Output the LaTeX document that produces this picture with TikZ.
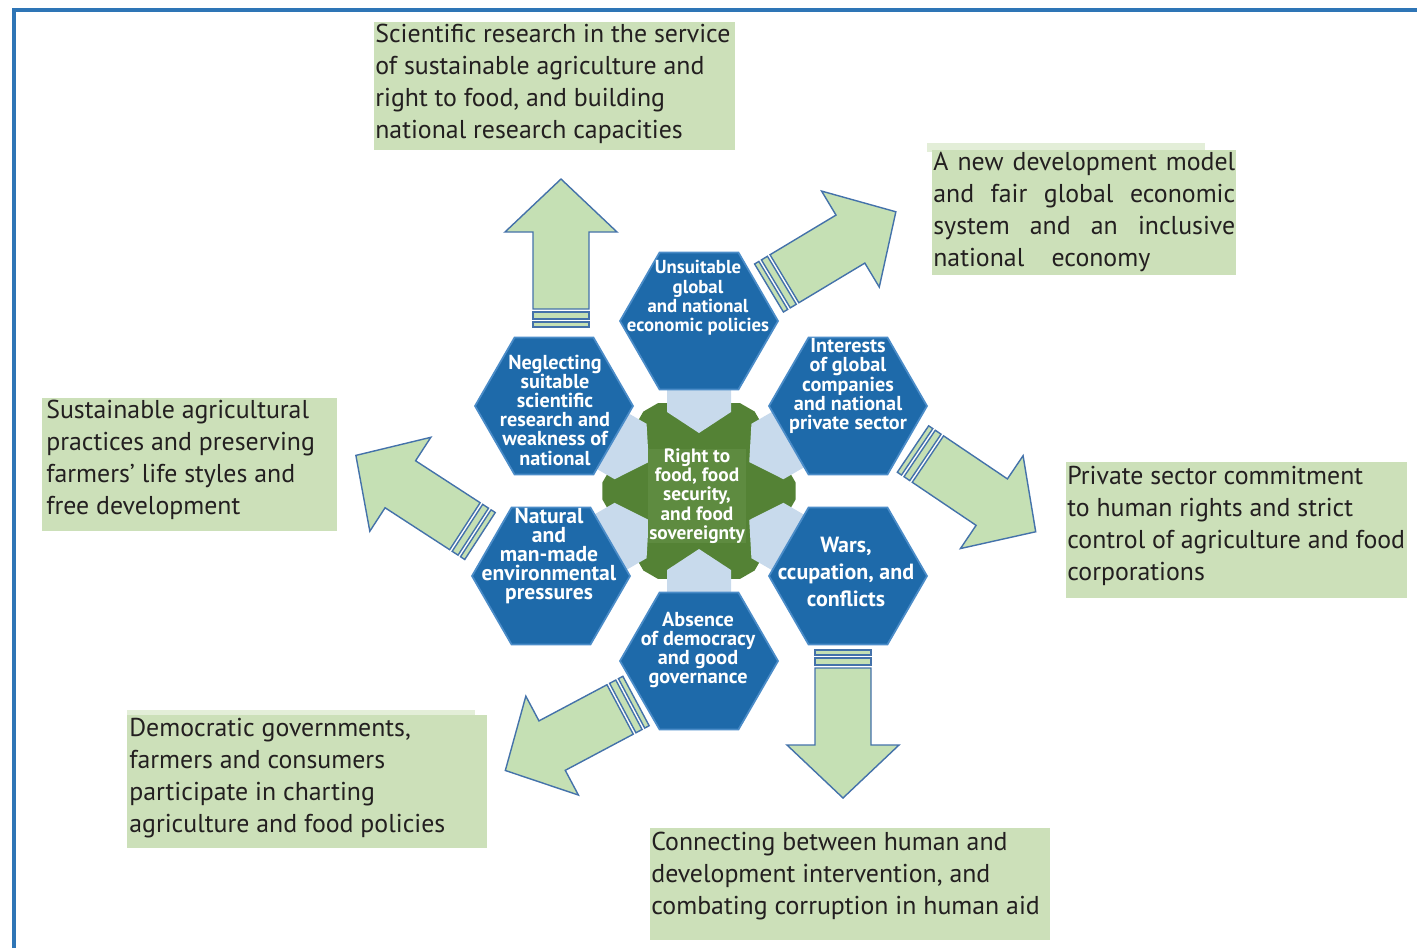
\documentclass[tikz,border=0pt]{standalone}
\usepackage{fontspec}
\setmainfont{PT Sans}
\usetikzlibrary{shapes.geometric,positioning}

\definecolor{frameblue}{RGB}{46,117,182}
\definecolor{hexblue}{RGB}{30,106,170}
\definecolor{hexedge}{RGB}{75,140,200}
\definecolor{stargreen}{RGB}{84,130,53}
\definecolor{starlight}{RGB}{94,139,64}
\definecolor{neckblue}{RGB}{200,218,236}
\definecolor{arrowgreen}{RGB}{197,224,180}
\definecolor{arrowedge}{RGB}{68,114,170}
\definecolor{boxgreen}{RGB}{204,224,185}
\definecolor{inkgray}{RGB}{35,31,32}

\tikzset{
  hexa/.style={regular polygon, regular polygon sides=6, minimum size=3.16cm,
    inner sep=0pt, fill=hexblue, draw=hexedge, line width=1pt},
  hextext/.style={text=white, font=\bfseries\fontsize{11.5}{10.94}\selectfont, align=center, inner sep=0pt},
  goaltext/.style={anchor=north west, text=inkgray, font=\fontsize{14.7}{18.14}\selectfont,
    align=left, inner sep=0pt},
  arrowpart/.style={fill=arrowgreen, draw=arrowedge, line width=0.8pt},
  neck/.style={fill=neckblue}
}

% striped block arrow: back end (x,y), direction
\newcommand{\stripearrow}[3]{%
  \begin{scope}[shift={(#1,#2)}, rotate=#3]
    \draw[arrowpart] (0,-28) rectangle (5,28);
    \draw[arrowpart] (8,-28) rectangle (15,28);
    \draw[arrowpart] (18,-28) -- (95,-28) -- (95,-56) -- (148,0) -- (95,56) -- (95,28) -- (18,28) -- cycle;
  \end{scope}}

\begin{document}
\begin{tikzpicture}[x=0.02cm, y=0.02cm]
    \useasboundingbox (0,0) rectangle (1417,-948);

    % frame
    \draw[frameblue, line width=0.09cm] (14,-948) -- (14,-10) -- (1417,-10);

    % arrows
    \stripearrow{561}{-327}{90}
    \stripearrow{769}{-288}{31}
    \stripearrow{913}{-449}{-34}
    \stripearrow{843}{-650}{-90}
    \stripearrow{636}{-701}{208}
    \stripearrow{480}{-536}{147}

    % centre star with necks
    \begin{scope}[shift={(699,-491)}]
        \fill[stargreen] (5:97) \foreach \a in {55,65,115,125,175,185,235,245,295,305,355} { -- (\a:97) } -- cycle;
        \foreach \t in {90,30,-30,-90,-150,150}
            \fill[neck, rotate=\t] (58,0) -- (79,-32) -- (104,-32) -- (104,32) -- (79,32) -- cycle;
    \end{scope}
    \node[hextext, font=\bfseries\fontsize{11}{10.94}\selectfont, fill=starlight,
        minimum width=1.98cm, minimum height=1.86cm] (core) at (697,-496)
        {Right to\\food, food\\security,\\and food\\sovereignty};

    % hexagons
    \node[hexa] (hT)  at (699,-321) {};
    \node[hexa] (hUR) at (848,-406) {};
    \node[hexa] (hLR) at (848,-576) {};
    \node[hexa] (hB)  at (699,-661) {};
    \node[hexa] (hLL) at (551,-576) {};
    \node[hexa] (hUL) at (554,-406) {};

    \node[hextext, font=\bfseries\fontsize{10.7}{10.94}\selectfont] (tT) at (698,-298)
        {Unsuitable\\global\\and national\\economic policies};
    \node[hextext] (tUR) at (848,-386) {Interests\\of global\\companies\\and national\\private sector};
    \node[hextext, font=\bfseries\fontsize{12.5}{15.3}\selectfont] (tLR) at (846,-572)
        {Wars,\\ccupation, and\\conflicts};
    \node[hextext] (tB)  at (698,-650) {Absence\\of democracy\\and good\\governance};
    \node[hextext, font=\bfseries\fontsize{12.3}{10.94}\selectfont] (tLL) at (549,-556)
        {Natural\\and\\man-made\\environmental\\pressures};
    \node[hextext] (tUL) at (555,-410) {Neglecting\\suitable\\scientific\\research and\\weakness of\\national};

    % goal boxes
    \fill[boxgreen] (374,-22) rectangle (735,-150);
    \node[goaltext] (gSci) at (375,-24) {Scientific research in the service\\of sustainable agriculture and\\right to food, and building\\national research capacities};

    \fill[boxgreen!55] (927,-143) rectangle (1205,-152);
    \fill[boxgreen] (932,-150) rectangle (1236,-275);
    \node[goaltext] (gDev) at (933,-152)
        {\makebox[6.04cm][s]{A new development model}\\
         \makebox[6.04cm][s]{and fair global economic}\\
         \makebox[6.04cm][s]{system and an inclusive}\\
         \makebox[4.34cm][s]{national economy}};

    \fill[boxgreen] (42,-398) rectangle (337,-531);
    \node[goaltext] (gFarm) at (46,-400) {Sustainable agricultural\\practices and preserving\\farmers' life styles and\\free development};

    \fill[boxgreen] (1066,-462) rectangle (1407,-598);
    \node[goaltext] (gPriv) at (1067,-466) {Private sector commitment\\to human rights and strict\\control of agriculture and food\\corporations};

    \fill[boxgreen!55] (127,-710) rectangle (475,-717);
    \fill[boxgreen] (127,-715) rectangle (487,-848);
    \node[goaltext] (gDemo) at (129,-718) {Democratic governments,\\farmers and consumers\\participate in charting\\agriculture and food policies};

    \fill[boxgreen] (650,-828) rectangle (1050,-940);
    \node[goaltext] (gAid) at (651,-832) {Connecting between human and\\development intervention, and\\combating corruption in human aid};
\end{tikzpicture}
\end{document}
